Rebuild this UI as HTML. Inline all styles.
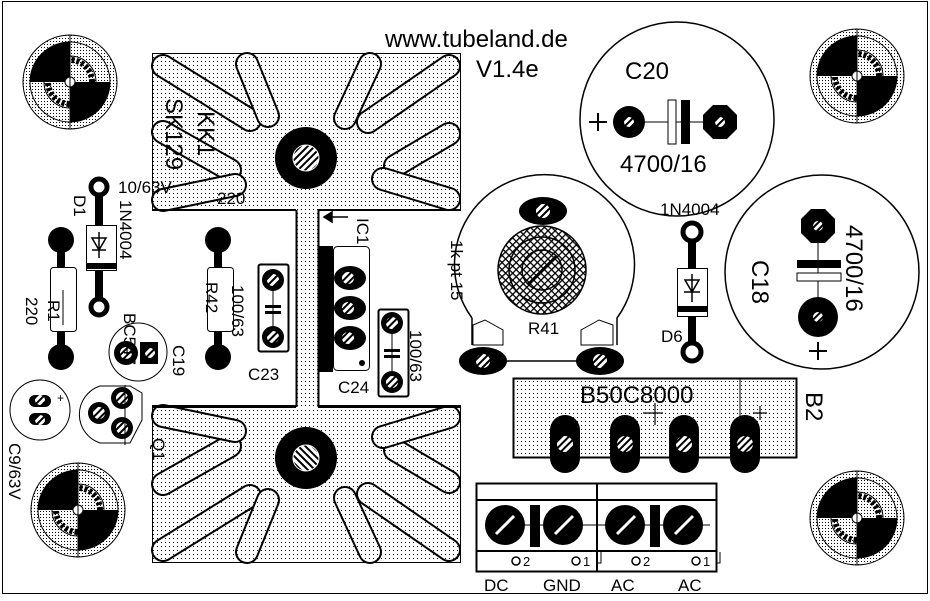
<!DOCTYPE html>
<html><head><meta charset="utf-8"><style>
html,body{margin:0;padding:0;background:#fff;}
svg{display:block;font-family:"Liberation Sans",Arial,sans-serif;}
</style></head><body>
<svg width="930" height="601" viewBox="0 0 930 601" xmlns="http://www.w3.org/2000/svg">
<defs>
<pattern id="d" width="4" height="4" patternUnits="userSpaceOnUse"><rect width="4" height="4" fill="#fff"/><rect x="1" y="1" width="1" height="1" fill="#000"/></pattern>
<pattern id="do" width="4" height="4" patternUnits="userSpaceOnUse"><rect x="1" y="1" width="1" height="1" fill="#000"/></pattern>
<pattern id="d2" width="3" height="3" patternUnits="userSpaceOnUse"><rect width="3" height="3" fill="#fff"/><rect x="1" y="1" width="1" height="1" fill="#000"/></pattern>
<pattern id="h" width="5" height="5" patternUnits="userSpaceOnUse" patternTransform="rotate(45)"><rect width="5" height="5" fill="#fff"/><rect width="2" height="5" fill="#000"/></pattern>
<pattern id="x" width="5" height="5" patternUnits="userSpaceOnUse" patternTransform="rotate(45)"><rect width="5" height="5" fill="#fff"/><rect width="1.3" height="5" fill="#000"/><rect width="5" height="1.3" fill="#000"/></pattern>
<g id="hole">
<circle r="47" fill="url(#d2)" stroke="#000" stroke-width="1"/>
<circle r="40" fill="url(#d2)" stroke="#000"/>
<path d="M0,0 L-40,0 A40,40 0 0 1 0,-40 Z" fill="#000"/>
<path d="M0,0 L40,0 A40,40 0 0 1 0,40 Z" fill="#000"/>
<circle r="22" fill="none" stroke="#000" stroke-width="6" stroke-dasharray="3 2"/>
<circle r="26" fill="none" stroke="#000" stroke-width="1"/>
<circle r="5" fill="#fff" stroke="#000"/>
<line x1="0" y1="-47" x2="0" y2="47" stroke="#000"/>
</g>
<line id="f1" x1="163" y1="66" x2="250" y2="120"/>
<line id="f2" x1="247" y1="64" x2="268" y2="116"/>
<line id="f3" x1="370" y1="64" x2="345" y2="118"/>
<line id="f4" x1="449" y1="66" x2="368" y2="122"/>
<line id="f5" x1="449" y1="134" x2="395" y2="166"/>
<line id="f6" x1="449" y1="199" x2="383" y2="179"/>
<line id="f7" x1="163" y1="132" x2="230" y2="170"/>
<line id="f8" x1="163" y1="200" x2="235" y2="185"/>
<g id="fins">
<rect x="152.5" y="53.5" width="308" height="157" fill="#fff" stroke="#000"/>
<g stroke-linecap="round">
<use href="#f1" stroke="#000" stroke-width="24"/><use href="#f1" stroke="#fff" stroke-width="20"/>
<use href="#f2" stroke="#000" stroke-width="24"/><use href="#f2" stroke="#fff" stroke-width="20"/>
<use href="#f3" stroke="#000" stroke-width="24"/><use href="#f3" stroke="#fff" stroke-width="20"/>
<use href="#f4" stroke="#000" stroke-width="24"/><use href="#f4" stroke="#fff" stroke-width="20"/>
<use href="#f5" stroke="#000" stroke-width="24"/><use href="#f5" stroke="#fff" stroke-width="20"/>
<use href="#f6" stroke="#000" stroke-width="24"/><use href="#f6" stroke="#fff" stroke-width="20"/>
<use href="#f7" stroke="#000" stroke-width="24"/><use href="#f7" stroke="#fff" stroke-width="20"/>
<use href="#f8" stroke="#000" stroke-width="24"/><use href="#f8" stroke="#fff" stroke-width="20"/>
</g>
<rect x="153" y="54" width="307" height="156" fill="url(#do)"/>
<circle cx="306" cy="158" r="31" fill="#000"/>
<circle cx="306" cy="158" r="13" fill="url(#h)" stroke="#fff" stroke-width="1"/>
</g>
</defs>
<rect x="2.5" y="1.5" width="925" height="592" fill="#fff" stroke="#000"/>

<!-- heatsinks -->
<use href="#fins"/>
<g transform="translate(0,616) scale(1,-1)"><use href="#fins"/></g>
<rect x="297" y="209" width="21" height="199" fill="url(#d)"/>
<line x1="296.5" y1="210" x2="296.5" y2="407" stroke="#000" stroke-width="2"/>
<line x1="318.5" y1="210" x2="318.5" y2="407" stroke="#000" stroke-width="2"/>
<line x1="153" y1="210" x2="296" y2="210" stroke="#000" stroke-width="2"/>
<line x1="318" y1="210" x2="460" y2="210" stroke="#000" stroke-width="2"/>
<line x1="153" y1="407" x2="296" y2="407" stroke="#000" stroke-width="2"/>
<line x1="318" y1="407" x2="460" y2="407" stroke="#000" stroke-width="2"/>

<use href="#hole" x="70" y="82"/>
<use href="#hole" x="857" y="76"/>
<use href="#hole" x="78" y="510"/>
<use href="#hole" x="857" y="518"/>

<text x="385" y="47" font-size="24">www.tubeland.de</text>
<text x="476" y="77" font-size="24">V1.4e</text>
<text font-size="24" transform="translate(198,111) rotate(90)">KK1</text>
<text font-size="24" transform="translate(166,98) rotate(90)">SK129</text>
<text x="217" y="204" font-size="17">220</text>
<text x="118" y="193" font-size="17">10/63V</text>

<!-- D1 -->
<line x1="99" y1="187" x2="99" y2="305" stroke="#000" stroke-width="8"/>
<circle cx="99" cy="187" r="8" fill="#fff" stroke="#000" stroke-width="5"/>
<circle cx="99" cy="307" r="8" fill="#fff" stroke="#000" stroke-width="5"/>
<rect x="86.5" y="225.5" width="30" height="45" fill="#fff" stroke="#000"/>
<rect x="86" y="263" width="31" height="6" fill="#000"/>
<path d="M92,238 L106,238 L99,250 Z M92,250 L106,250 M99,232 L99,258" fill="none" stroke="#000" stroke-width="1.5"/>
<text font-size="17" transform="translate(74,195) rotate(90)">D1</text>
<text font-size="17" transform="translate(120,200) rotate(90)">1N4004</text>

<!-- R1 -->
<line x1="61" y1="240" x2="61" y2="357" stroke="#000" stroke-width="8"/>
<circle cx="61" cy="240" r="13" fill="#000"/><circle cx="61" cy="357" r="13" fill="#000"/>
<rect x="50.5" y="267.5" width="26" height="64" rx="3" fill="#fff" stroke="#000"/>
<line x1="63" y1="290" x2="63" y2="325" stroke="#000"/>
<text font-size="17" transform="translate(48,300) rotate(90)">R1</text>
<text font-size="17" transform="translate(26,297) rotate(90)">220</text>

<!-- R42 -->
<line x1="218" y1="240" x2="218" y2="357" stroke="#000" stroke-width="8"/>
<circle cx="218" cy="240" r="13" fill="#000"/><circle cx="218" cy="357" r="13" fill="#000"/>
<rect x="207.5" y="267.5" width="26" height="64" rx="3" fill="#fff" stroke="#000"/>
<text font-size="17" transform="translate(206,282) rotate(90)">R42</text>
<text font-size="17" transform="translate(232,285) rotate(90)">100/63</text>

<!-- C23 -->
<rect x="258.5" y="264.5" width="30" height="87" rx="2" fill="#fff" stroke="#000" stroke-width="2"/>
<circle cx="273" cy="280" r="11" fill="#000"/><circle cx="273" cy="280" r="6" fill="url(#h)"/>
<circle cx="273" cy="337" r="11" fill="#000"/><circle cx="273" cy="337" r="6" fill="url(#h)"/>
<line x1="273" y1="290" x2="273" y2="327" stroke="#000"/>
<rect x="265" y="305" width="16" height="3" fill="#000"/><rect x="265" y="311" width="16" height="3" fill="#000"/>
<text x="248" y="380" font-size="17">C23</text>

<!-- IC1 -->
<rect x="333.5" y="246.5" width="36" height="124" rx="4" fill="#fff" stroke="#000"/>
<rect x="318" y="246" width="15" height="126" fill="#000"/>
<g fill="#000"><ellipse cx="350" cy="278" rx="16" ry="12"/><ellipse cx="350" cy="308" rx="16" ry="12"/><ellipse cx="350" cy="338" rx="16" ry="12"/></g>
<g fill="url(#h)"><circle cx="348" cy="278" r="6"/><circle cx="348" cy="308" r="6"/><circle cx="348" cy="338" r="6"/></g>
<circle cx="362" cy="363" r="3" fill="#000"/>
<path d="M348,217 L324,217 M324,217 L332,212 L332,222 Z" stroke="#000" stroke-width="1.5" fill="#000"/>
<text font-size="17" transform="translate(357,218) rotate(90)">IC1</text>

<!-- C24 -->
<rect x="378.5" y="309.5" width="30" height="87" rx="2" fill="#fff" stroke="#000" stroke-width="2"/>
<circle cx="392" cy="323" r="11" fill="#000"/><circle cx="392" cy="323" r="6" fill="url(#h)"/>
<circle cx="392" cy="382" r="11" fill="#000"/><circle cx="392" cy="382" r="6" fill="url(#h)"/>
<line x1="392" y1="334" x2="392" y2="371" stroke="#000"/>
<rect x="384" y="349" width="16" height="3" fill="#000"/><rect x="384" y="355" width="16" height="3" fill="#000"/>
<text x="338" y="393" font-size="17">C24</text>
<text font-size="17" transform="translate(410,330) rotate(90)">100/63</text>

<!-- C19 / BC -->
<circle cx="138" cy="352" r="29" fill="#fff" stroke="#000"/>
<circle cx="126" cy="353" r="12" fill="#000"/><circle cx="126" cy="353" r="6" fill="url(#h)"/>
<rect x="140" y="342" width="18" height="22" fill="#000"/><circle cx="150" cy="353" r="5" fill="url(#h)"/>
<text font-size="17" transform="translate(124,313) rotate(90)">BC547</text>
<text font-size="17" transform="translate(173,345) rotate(90)">C19</text>
<!-- Q1 -->
<path d="M100,386 L130,386 L142,393 L142,420 L130,443 L100,443 A30,30 0 0 1 100,386 Z" fill="#fff" stroke="#000"/>
<g fill="#000"><circle cx="122" cy="398" r="11"/><circle cx="99" cy="413" r="11"/><circle cx="122" cy="428" r="11"/></g>
<g fill="url(#h)"><circle cx="122" cy="398" r="6"/><circle cx="99" cy="413" r="6"/><circle cx="122" cy="428" r="6"/></g>
<line x1="125" y1="385" x2="125" y2="445" stroke="#000"/>
<text font-size="17" transform="translate(153,438) rotate(90)">Q1</text>
<!-- C9 10/63V -->
<circle cx="40" cy="410" r="30" fill="#fff" stroke="#000"/>
<rect x="29" y="395" width="22" height="12" rx="6" fill="#000"/><rect x="29" y="413" width="22" height="12" rx="6" fill="#000"/>
<circle cx="40" cy="400" r="5" fill="url(#h)"/><circle cx="40" cy="420" r="5" fill="url(#h)"/>
<text x="57" y="402" font-size="12">+</text>
<text font-size="17" transform="translate(9,443) rotate(90)">C9/63V</text>

<!-- C20 -->
<circle cx="677" cy="119" r="97" fill="#fff" stroke="#000" stroke-width="1.5"/>
<line x1="629" y1="122" x2="720" y2="122" stroke="#000"/>
<circle cx="629" cy="122" r="16" fill="#000"/><circle cx="629" cy="122" r="5" fill="url(#h)"/>
<polygon points="713,105 727,105 737,115 737,129 727,139 713,139 703,129 703,115" fill="#000"/><circle cx="720" cy="122" r="5" fill="url(#h)"/>
<rect x="668" y="100" width="8" height="44" fill="#fff" stroke="#000"/>
<rect x="681" y="100" width="9" height="44" fill="#000"/>
<path d="M589,122 h18 M598,113 v18" stroke="#000" stroke-width="2"/>
<text x="625" y="79" font-size="24">C20</text>
<text x="620" y="172" font-size="24">4700/16</text>

<!-- C18 -->
<circle cx="822" cy="272" r="97" fill="#fff" stroke="#000" stroke-width="1.5"/>
<line x1="818" y1="226" x2="818" y2="318" stroke="#000"/>
<polygon points="811,209 825,209 835,219 835,233 825,243 811,243 801,233 801,219" fill="#000"/><circle cx="818" cy="226" r="5" fill="url(#h)"/>
<circle cx="818" cy="317" r="20" fill="#000"/><circle cx="818" cy="317" r="5" fill="url(#h)"/>
<rect x="797" y="260" width="44" height="8" fill="#000"/>
<rect x="797" y="273" width="44" height="8" fill="#fff" stroke="#000"/>
<path d="M809,351 h18 M818,342 v18" stroke="#000" stroke-width="2"/>
<text font-size="24" transform="translate(846,225) rotate(90)">4700/16</text>
<text font-size="24" transform="translate(752,260) rotate(90)">C18</text>

<!-- R41 pot -->
<path d="M472,318 A90,90 0 1 1 617,318 L617,345 M472,318 L472,345" fill="none" stroke="#000" stroke-width="1.5"/>
<path d="M473,345 L473,325 L485,320 L503,330 L503,345 Z" fill="#fff" stroke="#000"/>
<path d="M581,345 L581,330 L599,320 L613,325 L613,345 Z" fill="#fff" stroke="#000"/>
<line x1="482" y1="361" x2="600" y2="361" stroke="#000" stroke-width="1.5"/>
<ellipse cx="483" cy="361" rx="24" ry="14" fill="#000"/><circle cx="483" cy="361" r="7" fill="url(#h)"/>
<ellipse cx="600" cy="361" rx="24" ry="14" fill="#000"/><circle cx="600" cy="361" r="7" fill="url(#h)"/>
<ellipse cx="543" cy="211" rx="24" ry="14" fill="#000"/><circle cx="543" cy="211" r="7" fill="url(#h)"/>
<circle cx="542" cy="270" r="44" fill="url(#x)" stroke="#000" stroke-width="1.5"/>
<circle cx="542" cy="270" r="33" fill="none" stroke="#000" stroke-width="1.5"/>
<circle cx="542" cy="270" r="20" fill="none" stroke="#000" stroke-width="1.5"/>
<line x1="528" y1="284" x2="556" y2="256" stroke="#000" stroke-width="2"/>
<text x="528" y="334" font-size="17">R41</text>
<text font-size="17" transform="translate(451,240) rotate(90)">1k pt 15</text>

<!-- D6 -->
<line x1="692" y1="230" x2="692" y2="352" stroke="#000" stroke-width="8"/>
<circle cx="692" cy="232" r="9" fill="#fff" stroke="#000" stroke-width="5"/>
<circle cx="692" cy="352" r="9" fill="#fff" stroke="#000" stroke-width="5"/>
<rect x="677.5" y="268.5" width="30" height="48" fill="#fff" stroke="#000"/>
<rect x="677" y="306" width="31" height="6" fill="#000"/>
<path d="M685,280 L699,280 L692,292 Z M684,292 L700,292 M692,274 L692,302" fill="none" stroke="#000" stroke-width="1.5"/>
<text x="660" y="215" font-size="17">1N4004</text>
<text x="661" y="342" font-size="17">D6</text>

<!-- B2 -->
<rect x="513.5" y="378.5" width="283" height="79" fill="url(#d)" stroke="#000" stroke-width="2"/>
<line x1="740" y1="379" x2="740" y2="457" stroke="#000"/>
<path d="M643,413 h20 M655,403 v22 M753,413 h14 M760,406 v14" stroke="#000" stroke-width="1.2"/>
<g fill="#000"><rect x="550" y="415" width="30" height="58" rx="15"/><rect x="610" y="415" width="30" height="58" rx="15"/><rect x="669" y="415" width="30" height="58" rx="15"/><rect x="730" y="415" width="30" height="58" rx="15"/></g>
<g fill="url(#h)"><circle cx="565" cy="444" r="8"/><circle cx="625" cy="444" r="8"/><circle cx="684" cy="444" r="8"/><circle cx="745" cy="444" r="8"/></g>
<text x="580" y="403" font-size="24">B50C8000</text>
<text font-size="24" transform="translate(806,392) rotate(90)">B2</text>

<!-- terminal blocks -->
<rect x="476.5" y="483.5" width="240" height="88" fill="#fff" stroke="#000" stroke-width="2"/>
<line x1="597" y1="483" x2="597" y2="572" stroke="#000" stroke-width="2"/>
<line x1="477" y1="500" x2="716" y2="500" stroke="#000" stroke-width="2"/>
<line x1="477" y1="551" x2="716" y2="551" stroke="#000" stroke-width="2"/>
<path d="M597,552 v11 h4 v-11 M716,552 v11 h4 v-11" fill="none" stroke="#000"/>
<line x1="485" y1="525" x2="710" y2="525" stroke="#000"/>
<g fill="#000"><circle cx="505" cy="525" r="20"/><circle cx="563" cy="525" r="20"/><circle cx="625" cy="525" r="20"/><circle cx="683" cy="525" r="20"/></g>
<rect x="530" y="505" width="10" height="42" fill="#000"/><rect x="650" y="505" width="10" height="42" fill="#000"/>
<g stroke="#fff" stroke-width="3"><path d="M496,534 L514,516 M555,534 L573,516 M617,534 L635,516 M675,534 L693,516"/></g>
<g fill="#fff" stroke="#000" stroke-width="1.5"><circle cx="516" cy="561" r="4"/><circle cx="576" cy="561" r="4"/><circle cx="636" cy="561" r="4"/><circle cx="696" cy="561" r="4"/></g>
<g font-size="13"><text x="523" y="566">2</text><text x="583" y="566">1</text><text x="643" y="566">2</text><text x="703" y="566">1</text></g>
<g font-size="17"><text x="484" y="591">DC</text><text x="543" y="591">GND</text><text x="611" y="591">AC</text><text x="678" y="591">AC</text></g>
</svg>
</body></html>
